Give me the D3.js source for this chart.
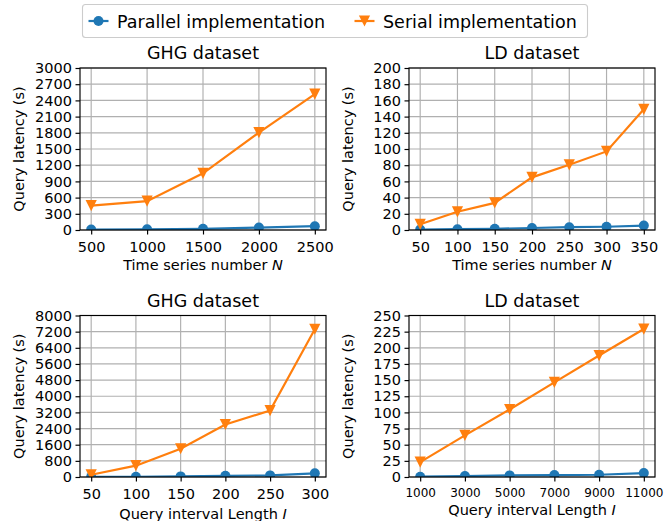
<!DOCTYPE html>
<html>
<head>
<meta charset="utf-8">
<script src="https://cdn.jsdelivr.net/npm/d3@7"></script>
<style>
body { margin: 0; background: #fff; }
text { font-family: "DejaVu Sans", sans-serif; fill: #000; }
</style>
</head>
<body>
<div id="chart"></div>
<script>
// data
var seriesNames = ['Parallel implementation', 'Serial implementation'];

var nGHG = [500, 1000, 1500, 2000, 2500];
var parallelGHG_N = [8, 12, 22, 45, 70];
var serialGHG_N = [450, 535, 1050, 1805, 2515];

var nLD = [50, 100, 150, 200, 250, 300, 350];
var parallelLD_N = [0.5, 1, 1.5, 2.5, 3.5, 4, 5.5];
var serialLD_N = [7, 22.5, 33.5, 65, 80.5, 97, 149];

var lGHG = [50, 100, 150, 200, 250, 300];
var parallelGHG_I = [5, 10, 30, 60, 80, 180];
var serialGHG_I = [110, 560, 1400, 2600, 3290, 7320];

var lLD = [1000, 3000, 5000, 7000, 9000, 11000];
var parallelLD_I = [0.5, 1.5, 2.5, 3, 3.5, 6];
var serialLD_I = [23, 64.5, 104.5, 146.5, 188, 229];

// tick labels
var yTicksGHG_N = [0, 300, 600, 900, 1200, 1500, 1800, 2100, 2400, 2700, 3000];
var yTicksLD_N = [0, 20, 40, 60, 80, 100, 120, 140, 160, 180, 200];
var yTicksGHG_I = [0, 800, 1600, 2400, 3200, 4000, 4800, 5600, 6400, 7200, 8000];
var yTicksLD_I = [0, 25, 50, 75, 100, 125, 150, 175, 200, 225, 250];

var colors = ['#1f77b4', '#ff7f0e'];

// build canvas
var width = 664,
	height = 521;

var svg = d3.select('#chart')
			.append('svg')
			.attr('width', width)
			.attr('height', height);

var panels = [
	{ title: 'GHG dataset', xs: nGHG, par: parallelGHG_N, ser: serialGHG_N, yTicks: yTicksGHG_N,
	  xlab: 'Time series number ', xvar: 'N', left: 80, top: 68, w: 246, h: 162, xlabY: 270, xFont: 14.5 },
	{ title: 'LD dataset', xs: nLD, par: parallelLD_N, ser: serialLD_N, yTicks: yTicksLD_N,
	  xlab: 'Time series number ', xvar: 'N', left: 409, top: 68, w: 246, h: 162, xlabY: 270, xFont: 14.5 },
	{ title: 'GHG dataset', xs: lGHG, par: parallelGHG_I, ser: serialGHG_I, yTicks: yTicksGHG_I,
	  xlab: 'Query interval Length ', xvar: 'I', left: 80, top: 315.5, w: 246, h: 161.5, xlabY: 519, xFont: 14.5 },
	{ title: 'LD dataset', xs: lLD, par: parallelLD_I, ser: serialLD_I, yTicks: yTicksLD_I,
	  xlab: 'Query interval Length ', xvar: 'I', left: 409, top: 315.5, w: 246, h: 161.5, xlabY: 515, xFont: 12 }
];

var lw = 2.2, ms = 11.2;

function triangle(cx, cy, s) {
	return 'M' + (cx - s / 2) + ',' + (cy - s / 2) + 'L' + (cx + s / 2) + ',' + (cy - s / 2) + 'L' + cx + ',' + (cy + s / 2) + 'Z';
}

panels.forEach(function(p, i) {
	var g = svg.append('g');
	var x0 = d3.min(p.xs), x1 = d3.max(p.xs), padX = (x1 - x0) * 0.05;
	var x = d3.scaleLinear().domain([x0 - padX, x1 + padX]).range([p.left, p.left + p.w]);
	var y = d3.scaleLinear().domain([0, d3.max(p.yTicks)]).range([p.top + p.h, p.top]);

	// clip to the axes area
	svg.append('clipPath').attr('id', 'clip' + i)
		.append('rect').attr('x', p.left).attr('y', p.top).attr('width', p.w).attr('height', p.h);

	// grid
	g.selectAll('line.vg').data(p.xs).enter().append('line')
		.attr('x1', d => x(d)).attr('x2', d => x(d))
		.attr('y1', p.top).attr('y2', p.top + p.h)
		.attr('stroke', '#b0b0b0').attr('stroke-width', 1.17);
	g.selectAll('line.hg').data(p.yTicks).enter().append('line')
		.attr('x1', p.left).attr('x2', p.left + p.w)
		.attr('y1', d => y(d)).attr('y2', d => y(d))
		.attr('stroke', '#b0b0b0').attr('stroke-width', 1.17);

	var plot = g.append('g').attr('clip-path', 'url(#clip' + i + ')');
	var line = d3.line().x(d => x(d[0])).y(d => y(d[1]));

	[p.par, p.ser].forEach(function(vals, k) {
		var pts = p.xs.map((d, j) => [d, vals[j]]);
		plot.append('path').datum(pts)
			.attr('d', line)
			.attr('fill', 'none')
			.attr('stroke', colors[k])
			.attr('stroke-width', lw);
		if (k === 0) {
			plot.selectAll('circle.m').data(pts).enter().append('circle')
				.attr('cx', d => x(d[0])).attr('cy', d => y(d[1]))
				.attr('r', 5).attr('fill', colors[k]);
		} else {
			plot.selectAll('path.m').data(pts).enter().append('path')
				.attr('d', d => triangle(x(d[0]), y(d[1]), ms))
				.attr('fill', colors[k]);
		}
	});

	// spines
	g.append('rect')
		.attr('x', p.left).attr('y', p.top).attr('width', p.w).attr('height', p.h)
		.attr('fill', 'none').attr('stroke', '#000').attr('stroke-width', 1.17);

	// axes
	var ax = g.append('g').attr('transform', 'translate(0,' + (p.top + p.h) + ')')
		.call(d3.axisBottom(x).tickValues(p.xs).tickSize(4.5).tickPadding(7).tickFormat(d3.format('d')));
	ax.selectAll('text').style('font-size', p.xFont + 'px');
	var ay = g.append('g').attr('transform', 'translate(' + p.left + ',0)')
		.call(d3.axisLeft(y).tickValues(p.yTicks).tickSize(4.5).tickPadding(3.5).tickFormat(d3.format('d')));
	ay.selectAll('text').style('font-size', '14.5px');
	[ax, ay].forEach(function(a) {
		a.select('.domain').remove();
		a.selectAll('line').attr('stroke', '#000').attr('stroke-width', 1.17);
		a.selectAll('text').style('font-family', '"DejaVu Sans", sans-serif').attr('fill', '#000');
	});

	// title
	g.append('text')
		.attr('x', p.left + p.w / 2).attr('y', p.top - 9)
		.attr('text-anchor', 'middle')
		.style('font-size', '17.5px')
		.text(p.title);

	// x label
	var xl = g.append('text')
		.attr('x', p.left + p.w / 2).attr('y', p.xlabY)
		.attr('text-anchor', 'middle')
		.style('font-size', '14.5px');
	xl.append('tspan').text(p.xlab);
	xl.append('tspan').style('font-style', 'italic').text(p.xvar);

	// y label
	g.append('text')
		.attr('transform', 'translate(' + (p.left - 56.5) + ',' + (p.top + p.h / 2) + ') rotate(-90)')
		.attr('text-anchor', 'middle')
		.style('font-size', '14.5px')
		.text('Query latency (s)');
});

// legend
var legend = svg.append('g');
legend.append('rect')
	.attr('x', 82.5).attr('y', 4.5).attr('width', 505).attr('height', 33).attr('rx', 3)
	.attr('fill', '#fff').attr('stroke', '#cccccc').attr('stroke-width', 1.1);

var legX = [88.5, 354.5];
seriesNames.forEach(function(name, k) {
	var lx = legX[k], ly = 21;
	legend.append('line')
		.attr('x1', lx).attr('x2', lx + 20).attr('y1', ly).attr('y2', ly)
		.attr('stroke', colors[k]).attr('stroke-width', lw);
	if (k === 0) {
		legend.append('circle').attr('cx', lx + 10).attr('cy', ly).attr('r', 5).attr('fill', colors[k]);
	} else {
		legend.append('path').attr('d', triangle(lx + 10, ly, ms)).attr('fill', colors[k]);
	}
	legend.append('text')
		.attr('x', lx + 28.5).attr('y', ly + 6.5)
		.style('font-size', '17.5px')
		.text(name);
});
</script>
</body>
</html>
